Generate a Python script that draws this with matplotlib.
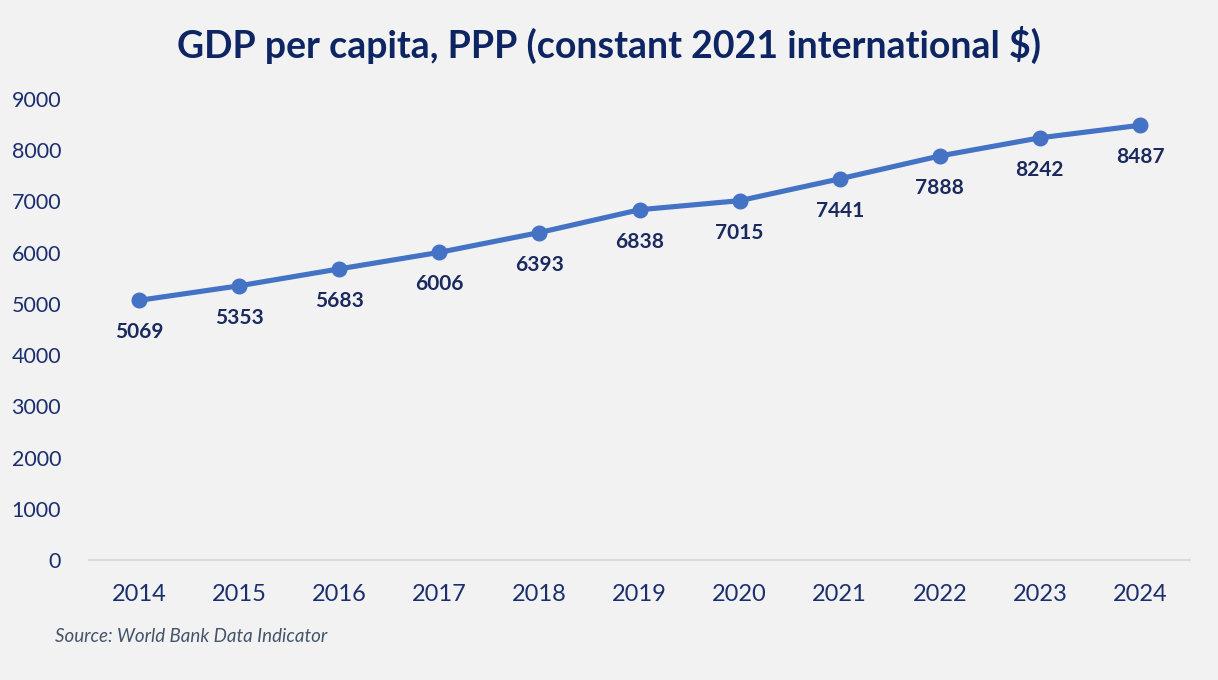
import matplotlib
matplotlib.use("Agg")
import matplotlib.pyplot as plt

years = ["2014", "2015", "2016", "2017", "2018", "2019", "2020", "2021", "2022", "2023", "2024"]
gdp = [5069, 5353, 5683, 6006, 6393, 6838, 7015, 7441, 7888, 8242, 8487]
yticks = [0, 1000, 2000, 3000, 4000, 5000, 6000, 7000, 8000, 9000]

plt.rcParams['font.family'] = ['Lato', 'DejaVu Sans']
bg = "#F2F2F2"
fig = plt.figure(figsize=(12.18, 6.8), dpi=100, facecolor=bg)
ax = fig.add_axes([89/1218, 1-560/680, 1101/1218, 461/680], facecolor=bg)

x = list(range(len(years)))
ax.plot(x, gdp, color="#4472C4", lw=3.7, marker="o", ms=10.5, solid_capstyle="round", zorder=3)
for xi, v in zip(x, gdp):
    ax.annotate(f"{v}", (xi, v), xytext=(0, -32), textcoords="offset pixels",
                ha="center", va="center", fontsize=15, fontweight="bold", color="#1B2A5E")

ax.set_xlim(-0.5, 10.5)
ax.set_ylim(0, 9000)
ax.set_xticks(x)
ax.set_xticklabels(years, fontsize=17, color="#1B2F6E")
ax.set_yticks(yticks)
ax.set_yticklabels([str(t) for t in yticks], fontsize=15.5, color="#1B2F6E")
ax.tick_params(axis="both", length=0)
ax.tick_params(axis="y", pad=20)
ax.tick_params(axis="x", pad=17)
for s in ["top", "right", "left"]:
    ax.spines[s].set_visible(False)
ax.spines["bottom"].set_color("#D9D9D9")
ax.spines["bottom"].set_linewidth(1.5)

fig.text(609/1218, 1-45/680, "GDP per capita, PPP (constant 2021 international $)", ha="center", va="center",
         fontsize=27, fontweight="bold", color="#0E2563")
fig.text(55/1218, 1-636/680, "Source: World Bank Data Indicator", ha="left", va="center",
         fontsize=13.5, style="italic", color="#44546A")

fig.savefig("out.png", dpi=100, facecolor=bg)
